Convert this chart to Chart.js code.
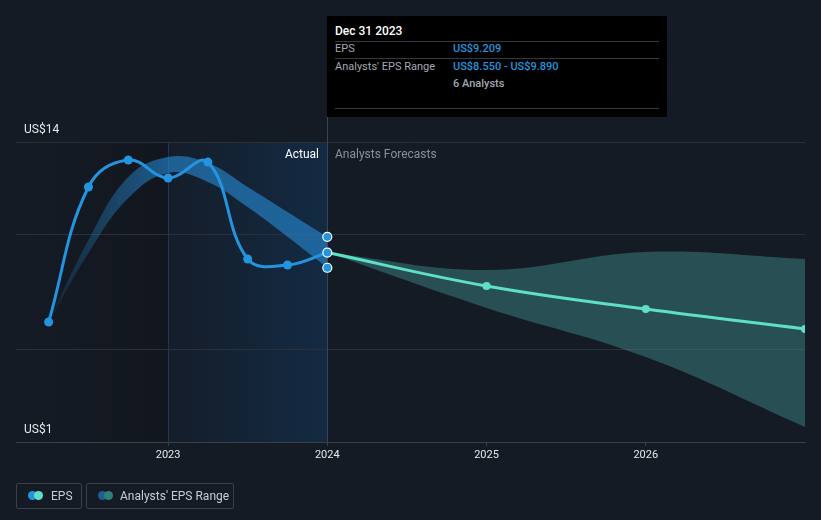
<!DOCTYPE html>
<html>
<head>
<meta charset="utf-8">
<script src="https://cdn.jsdelivr.net/npm/chart.js@4.4.1/dist/chart.umd.min.js"></script>
<style>
  html, body { margin: 0; padding: 0; background: #151b25; }
  body { width: 821px; height: 520px; position: relative; overflow: hidden; font-family: Roboto, "Noto Sans", sans-serif; }
  #chart { position: absolute; left: 0; top: 0; }
  .tip { position: absolute; left: 327px; top: 16px; width: 340px; height: 101px; background: #000; }
  .tip .row { position: absolute; left: 8px; right: 8px; font-size: 11px; color: #a3a8b0; }
  .tip .sep { position: absolute; left: 8px; right: 8px; height: 1px; background: #34383f; }
  .tip .val { position: absolute; left: 118px; top: 0; color: #2394df; font-weight: 500; }
  .legend { position: absolute; top: 483px; height: 26px; border: 1px solid #3a3f48; border-radius: 2px; box-sizing: border-box; color: #c9cdd3; font-size: 12px; line-height: 25px; }
  .legend .dot { position: absolute; top: 7px; width: 9px; height: 9px; border-radius: 50%; }
  .overlay { position: absolute; font-size: 12px; }
</style>
</head>
<body>
<canvas id="chart" width="821" height="520"></canvas>

<div class="tip">
  <div class="row" style="top:8px;color:#fff;font-size:12px;font-weight:500">Dec 31 2023</div>
  <div class="sep" style="top:25px"></div>
  <div class="row" style="top:26px">EPS<span class="val">US$9.209</span></div>
  <div class="sep" style="top:42px"></div>
  <div class="row" style="top:44px">Analysts' EPS Range<span class="val">US$8.550 - US$9.890</span></div>
  <div class="row" style="top:61px"><span class="val" style="color:#a3a8b0">6 Analysts</span></div>
  <div class="sep" style="top:92px"></div>
</div>

<div class="overlay" style="left:230px;width:89px;text-align:right;top:147px;color:#fff">Actual</div>
<div class="overlay" style="left:335px;top:147px;color:#8a9099">Analysts Forecasts</div>

<div class="legend" style="left:16px;width:66px">
  <span class="dot" style="left:11px;background:#2394df"></span>
  <span class="dot" style="left:17px;background:#5ee0c8"></span>
  <span style="position:absolute;left:34px">EPS</span>
</div>
<div class="legend" style="left:86px;width:148px">
  <span class="dot" style="left:11px;background:#1f5f8f"></span>
  <span class="dot" style="left:17px;background:#2f7f7a"></span>
  <span style="position:absolute;left:33px">Analysts' EPS Range</span>
</div>

<script>
// actual EPS, quarterly
const actualX = [2022.25, 2022.5, 2022.75, 2023.0, 2023.25, 2023.5, 2023.75, 2024.0];
const actualEps = [6.20, 12.05, 13.22, 12.44, 13.13, 8.93, 8.67, 9.209];
const pastLow = [6.20, 9.19, 11.57, 12.66, 12.27, 11.18, 9.89, 8.55];
const pastHigh = [6.20, 9.75, 12.48, 13.35, 13.09, 12.05, 10.97, 9.89];

// analysts forecasts, yearly
const fcX = [2024, 2025, 2026, 2027];
const fcEps = [9.209, 7.76, 6.76, 5.90];
const fcLow = [9.209, 6.81, 4.68, 1.65];
const fcHigh = [9.209, 8.45, 9.23, 8.93];

// range shown at Dec 31 2023
const markX = [2024, 2024, 2024];
const markVals = [9.89, 9.209, 8.55];

const yearTicks = [2023, 2024, 2025, 2026];
const priceTicks = [1, 5, 10, 14];
const priceLabels = { 1: "US$1", 14: "US$14" };

const pts = (xs, ys) => xs.map((x, i) => ({ x: x, y: ys[i] }));

function pastFill(ctx) {
  const ch = ctx.chart;
  if (!ch.chartArea) return "rgba(38,140,215,0.5)";
  const xs = ch.scales.x;
  const g = ch.ctx.createLinearGradient(xs.getPixelForValue(2022.25), 0, xs.getPixelForValue(2023), 0);
  g.addColorStop(0, "rgba(38,140,215,0.1)");
  g.addColorStop(1, "rgba(38,140,215,0.6)");
  return g;
}

const bgPlugin = {
  id: "bg",
  beforeDraw(chart) {
    const c = chart.ctx, a = chart.chartArea, xs = chart.scales.x;
    const x23 = xs.getPixelForValue(2023), x24 = xs.getPixelForValue(2024);
    c.save();
    c.fillStyle = "#151b25";
    c.fillRect(0, 0, chart.width, chart.height);
    let g = c.createLinearGradient(a.left, 0, x23, 0);
    g.addColorStop(0, "rgba(0,0,0,0)");
    g.addColorStop(1, "rgba(0,0,0,0.18)");
    c.fillStyle = g;
    c.fillRect(a.left, a.top, x23 - a.left, a.bottom - a.top);
    g = c.createLinearGradient(x23, 0, x24, 0);
    g.addColorStop(0, "rgba(15,70,120,0.06)");
    g.addColorStop(1, "rgba(15,70,120,0.36)");
    c.fillStyle = g;
    c.fillRect(x23, a.top, x24 - x23, a.bottom - a.top);
    c.strokeStyle = "rgba(40,100,160,0.35)";
    c.lineWidth = 1;
    c.beginPath();
    c.moveTo(Math.round(x23) + 0.5, a.top);
    c.lineTo(Math.round(x23) + 0.5, a.bottom);
    c.stroke();
    c.restore();
  },
  beforeDatasetsDraw(chart) {
    const c = chart.ctx, a = chart.chartArea, xs = chart.scales.x;
    const x24 = Math.round(xs.getPixelForValue(2024)) + 0.5;
    c.save();
    c.strokeStyle = "#3a4554";
    c.lineWidth = 1;
    c.beginPath();
    c.moveTo(x24, 117);
    c.lineTo(x24, a.bottom);
    c.stroke();
    c.restore();
  }
};

new Chart(document.getElementById("chart"), {
  type: "line",
  data: {
    datasets: [
      { data: pts(actualX, pastLow), borderWidth: 0, pointRadius: 0, fill: false, tension: 0.4, order: 6 },
      { data: pts(actualX, pastHigh), borderWidth: 0, pointRadius: 0, fill: "-1", backgroundColor: pastFill, tension: 0.4, order: 5 },
      { data: pts(fcX, fcLow), borderWidth: 0, pointRadius: 0, fill: false, tension: 0.4, order: 4 },
      { data: pts(fcX, fcHigh), borderWidth: 0, pointRadius: 0, fill: "-1", backgroundColor: "rgba(80,190,180,0.32)", tension: 0.4, order: 3 },
      { data: pts(fcX, fcEps), borderColor: "#5ee0c8", backgroundColor: "#5ee0c8", borderWidth: 3, pointRadius: 4, pointBorderWidth: 0, tension: 0.4, order: 2 },
      { data: pts(actualX, actualEps), borderColor: "#2394df", backgroundColor: "#2394df", borderWidth: 3, pointRadius: 4.5, pointBorderWidth: 0, tension: 0.4, order: 1 },
      { data: pts(markX, markVals), showLine: false, backgroundColor: "#2394df", pointBorderColor: "#ffffff", pointBorderWidth: 1.2, pointRadius: 4.5, order: 0 }
    ]
  },
  options: {
    responsive: false,
    animation: false,
    events: [],
    layout: { padding: { left: 16, right: 16, top: 142, bottom: 0 } },
    plugins: { legend: { display: false }, tooltip: { enabled: false } },
    scales: {
      x: {
        type: "linear",
        min: 2022.045,
        max: 2027.0,
        afterBuildTicks: s => { s.ticks = yearTicks.map(v => ({ value: v })); },
        afterFit: s => { s.height = 78; },
        grid: { drawOnChartArea: false, drawTicks: true, tickLength: 4, color: "#3a3f48" },
        border: { color: "#3a3f48" },
        ticks: { color: "#e6e8eb", font: { size: 11, family: "Roboto" }, padding: 3, maxRotation: 0, callback: v => String(v) }
      },
      y: {
        min: 1,
        max: 14,
        afterBuildTicks: s => { s.ticks = priceTicks.map(v => ({ value: v })); },
        afterFit: s => { s.width = 0; },
        grid: { color: "#2a2f38", drawTicks: false },
        border: { display: false },
        ticks: { mirror: true, padding: 8, labelOffset: -12, color: "#e6e8eb", font: { size: 12, family: "Roboto" }, callback: v => priceLabels[v] || "" }
      }
    }
  },
  plugins: [bgPlugin]
});
</script>
</body>
</html>
